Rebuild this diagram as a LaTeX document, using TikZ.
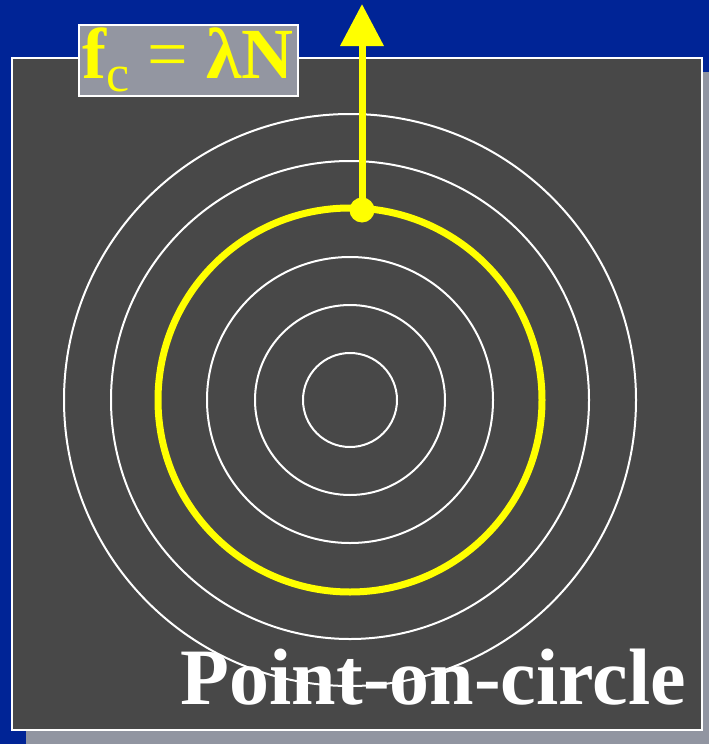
\documentclass[tikz,border=0pt]{standalone}
\usepackage{fontspec}
\setmainfont{Liberation Serif}
\usetikzlibrary{arrows.meta}
\definecolor{slideblue}{RGB}{0,36,150}
\definecolor{panelgray}{RGB}{72,72,72}
\definecolor{shadowgray}{RGB}{145,149,161}
\definecolor{labelgray}{RGB}{147,150,161}
\definecolor{hiyellow}{RGB}{255,255,0}
\tikzset{
  ring line/.style={draw=white, line width=2pt},
  focus ring/.style={draw=hiyellow, line width=7pt},
  force arrow/.style={
    -{Triangle[length=42pt,width=42pt]},
    draw=hiyellow,
    fill=hiyellow,
    line width=7pt
  },
  formula box/.style={
    draw=white,
    line width=2pt,
    fill=labelgray,
    text=hiyellow,
    inner sep=0pt,
    minimum width=219pt,
    minimum height=71pt,
    font=\fontsize{72}{72}\selectfont\bfseries
  },
  slide title/.style={
    text=white,
    anchor=base east,
    inner sep=0pt,
    font=\fontsize{80}{80}\selectfont\bfseries
  }
}

\begin{document}
\begin{tikzpicture}[x=1pt,y=-1pt]
\fill[slideblue] (0,0) rectangle (709,744);
\useasboundingbox (0,0) rectangle (709,744);

% panel and its drop shadow
\fill[shadowgray] (26,72) rectangle (716,746);
\filldraw[fill=panelgray, draw=white, line width=2pt] (12,58) rectangle (702,730);

\coordinate (centre) at (350,400);
\foreach \r in {47,95,143,239,286}
  \draw[ring line] (centre) circle[radius=\r];
\draw[focus ring] (centre) circle[radius=192];

\node[slide title] (title) at (686,704) {Point-on-circle};

\coordinate (tip) at (362,4);
\node[circle, fill=hiyellow, minimum size=25pt, inner sep=0pt] (dot) at (362,210) {};
\draw[force arrow] (dot.center) -- (tip);

\node[formula box] (formula) at (188,60)
  {f\raisebox{-13pt}{\fontsize{52}{52}\selectfont\mdseries c} {\mdseries=} λN};
\end{tikzpicture}
\end{document}
